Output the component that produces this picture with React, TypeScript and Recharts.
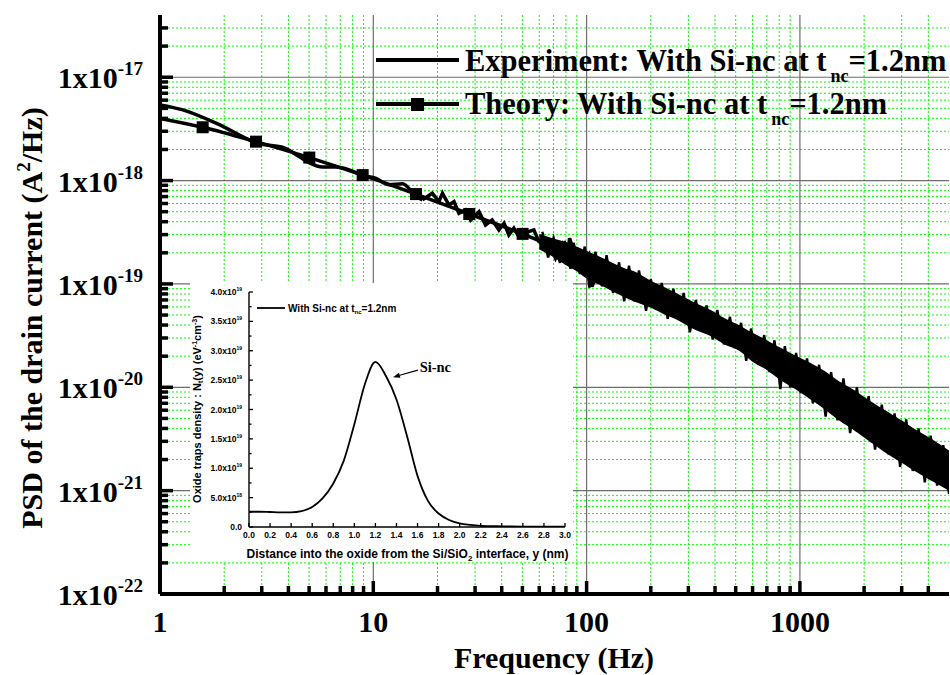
import React from 'react';
import {
  ComposedChart, LineChart, Line, Area, XAxis, YAxis, ReferenceLine, ReferenceDot, Legend, Label, CartesianGrid,
} from 'recharts';

// ---------------- main chart data ----------------
const xDecades = [1, 10, 100, 1000];
const yDecades = [1e-22, 1e-21, 1e-20, 1e-19, 1e-18, 1e-17];
const mantissas = [1, 2, 3, 4, 5, 6, 7, 8, 9];
const xDomain = [1, 5000];
const yDomain = [1e-22, 4e-17];

// experiment, low-frequency smooth part
const expSmoothF = [1, 1.28, 1.83, 2.62, 2.82, 3.75, 4.49, 5.0, 5.78, 6.67, 7.7, 8.9, 10.3, 11.85, 13.7, 15.8, 17.0];
const expSmoothV = [5.4e-18, 4.83e-18, 3.59e-18, 2.47e-18, 2.3e-18, 2.1e-18, 1.71e-18, 1.49e-18, 1.35e-18, 1.35e-18, 1.27e-18, 1.12e-18, 1.05e-18, 9.1e-19, 9.3e-19, 7.1e-19, 6.5e-19];

// experiment, noisy mid-frequency part
const expNoisyF = [17.0, 18.9, 20.3, 21.1, 22.6, 23.9, 25.2, 27.1, 28.6, 31.3, 33.6, 36.1, 38.8, 41.0, 43.2, 45.6, 48.2, 53.6, 56.6, 59.7, 64.2, 68.9, 71.5, 76.8, 81.0, 83.2, 88.8, 93.7, 102.4, 106.1, 114];
const expNoisyV = [6.5e-19, 7.55e-19, 6.25e-19, 7.55e-19, 5.81e-19, 6.25e-19, 4.83e-19, 5.2e-19, 4.16e-19, 5.0e-19, 3.72e-19, 4.16e-19, 3.33e-19, 3.87e-19, 2.98e-19, 3.46e-19, 2.87e-19, 3.21e-19, 3.33e-19, 2.57e-19, 2.38e-19, 2.13e-19, 1.77e-19, 2.38e-19, 1.59e-19, 2.77e-19, 1.84e-19, 1.47e-19, 1.91e-19, 9.4e-20, 1.47e-19];

// experiment, high-frequency noise band (lower / upper envelope)
const bandF = [60, 70, 80, 90, 100, 115, 130, 150, 170, 200, 230, 270, 320, 380, 450, 520, 600, 700, 800, 950, 1100, 1300, 1500, 1800, 2100, 2500, 3000, 3500, 4200, 5000];
const bandLow = [2.2e-19, 1.85e-19, 1.55e-19, 1.35e-19, 1.15e-19, 1.0e-19, 8.8e-20, 7.6e-20, 6.8e-20, 6.0e-20, 5.2e-20, 4.5e-20, 3.7e-20, 3.2e-20, 2.6e-20, 2.3e-20, 1.8e-20, 1.5e-20, 1.22e-20, 9.8e-21, 8.0e-21, 6.3e-21, 5.0e-21, 3.9e-21, 3.1e-21, 2.4e-21, 1.9e-21, 1.55e-21, 1.25e-21, 1.02e-21];
const bandHigh = [3.0e-19, 2.7e-19, 2.5e-19, 2.25e-19, 2.05e-19, 1.8e-19, 1.6e-19, 1.4e-19, 1.28e-19, 1.05e-19, 9.2e-20, 7.8e-20, 6.5e-20, 5.5e-20, 4.5e-20, 3.9e-20, 3.3e-20, 2.8e-20, 2.4e-20, 2.0e-20, 1.72e-20, 1.42e-20, 1.15e-20, 9.2e-21, 7.4e-21, 5.9e-21, 4.7e-21, 3.8e-21, 3.05e-21, 2.4e-21];

// experiment, spikes of the noisy trace sticking out of the band
const spikeF = [62, 66, 70, 75, 79, 84, 87, 93, 98, 103, 110, 118, 124, 133, 142, 150, 158, 167, 176, 190, 200, 212, 225, 240, 255, 272, 285, 305, 325, 345, 365, 390, 410, 440, 470, 495, 530, 560, 590, 640, 680, 720, 760, 810, 850, 900, 960, 1010, 1080, 1150, 1230, 1320, 1400, 1500, 1600, 1720, 1850, 1980, 2100, 2250, 2420, 2600, 2780, 2950, 3150, 3380, 3600, 3850, 4100, 4400, 4700, 5000];
const spikeV = [3.2e-19, 1.8e-19, 2.8e-19, 1.6e-19, 2.6e-19, 1.4e-19, 2.5e-19, 1.25e-19, 2.3e-19, 9.2e-20, 2.05e-19, 9.5e-20, 1.9e-19, 8.2e-20, 1.62e-19, 6.8e-20, 1.5e-19, 6.8e-20, 1.35e-19, 5.5e-20, 1.12e-19, 5.7e-20, 1.02e-19, 4.6e-20, 9.0e-20, 4.6e-20, 8.2e-20, 3.4e-20, 7.0e-20, 3.6e-20, 6.2e-20, 2.9e-20, 5.6e-20, 2.6e-20, 4.8e-20, 2.4e-20, 4.2e-20, 1.8e-20, 3.7e-20, 1.65e-20, 3.2e-20, 1.4e-20, 2.85e-20, 9.6e-21, 2.5e-20, 1.0e-20, 2.15e-20, 8.8e-21, 1.9e-20, 7.0e-21, 1.65e-20, 5.2e-21, 1.4e-20, 4.8e-21, 1.22e-20, 3.6e-21, 1.0e-20, 3.4e-21, 8.2e-21, 2.5e-21, 6.8e-21, 2.25e-21, 5.6e-21, 1.7e-21, 4.9e-21, 1.55e-21, 4.0e-21, 1.2e-21, 3.4e-21, 1.12e-21, 2.75e-21, 9.3e-22];

// theory
const theoryF = [1, 1.585, 2.818, 5.012, 8.913, 15.85, 28.18, 50.12, 89.13, 158.5, 281.8, 501.2, 891.3, 1585, 2818, 5000];
const theoryV = [4.0e-18, 3.28e-18, 2.38e-18, 1.67e-18, 1.13e-18, 7.4e-19, 4.75e-19, 3.05e-19, 1.85e-19, 1.0e-19, 5.2e-20, 2.95e-20, 1.55e-20, 7.6e-21, 3.1e-21, 1.55e-21];

// ---------------- inset data ----------------
const insetY = [0, 0.1, 0.2, 0.3, 0.4, 0.5, 0.6, 0.7, 0.8, 0.9, 1.0, 1.1, 1.2, 1.3, 1.4, 1.5, 1.6, 1.7, 1.8, 1.9, 2.0, 2.1, 2.2, 2.4, 2.6, 2.8, 3.0];
const insetNt = [2.6e18, 2.6e18, 2.55e18, 2.5e18, 2.5e18, 2.7e18, 3.4e18, 4.9e18, 7.4e18, 1.13e19, 1.75e19, 2.43e19, 2.81e19, 2.57e19, 2.17e19, 1.55e19, 8.7e18, 4.4e18, 2.3e18, 1.2e18, 6e17, 3.5e17, 2e17, 1.2e17, 8e16, 6e16, 5e16];
const insetXTicks = [0, 0.2, 0.4, 0.6, 0.8, 1.0, 1.2, 1.4, 1.6, 1.8, 2.0, 2.2, 2.4, 2.6, 2.8, 3.0];
const insetYTicks = [0, 2.5e18, 5e18, 7.5e18, 1e19, 1.25e19, 1.5e19, 1.75e19, 2e19, 2.25e19, 2.5e19, 2.75e19, 3e19, 3.25e19, 3.5e19, 3.75e19, 4e19];

// ---------------- derived ----------------
const expSmooth = expSmoothF.map((f, i) => ({ f, v: expSmoothV[i] }));
const expNoisy = expNoisyF.map((f, i) => ({ f, v: expNoisyV[i] }));
const band = bandF.map((f, i) => ({ f, r: [bandLow[i], bandHigh[i]] }));
const spikes = spikeF.map((f, i) => ({ f, v: spikeV[i] }));
const theory = theoryF.map((f, i) => ({ f, v: theoryV[i] }));
const inset = insetY.map((y, i) => ({ y, n: insetNt[i] }));

const xTicks = xDecades.flatMap((d) => mantissas.map((m) => m * d)).filter((v) => v < xDomain[1]);
const yTicks = yDecades.flatMap((d) => mantissas.map((m) => m * d)).filter((v) => v < yDomain[1] * 0.99);
const isMajor = (v: number) => Math.abs(Math.log10(v) - Math.round(Math.log10(v))) < 1e-6;
const xMinor = xTicks.filter((v) => !isMajor(v));
const xMajor = xTicks.filter((v) => isMajor(v) && v > xDomain[0]);
const yMinor = yTicks.filter((v) => !isMajor(v));
const yMajor = yTicks.filter((v) => isMajor(v) && v > yDomain[0] * 1.01);

const serif = '"Liberation Serif", "Times New Roman", serif';
const sans = '"Liberation Sans", Arial, sans-serif';
const GREEN = '#00ff00';

// ---------------- main ticks ----------------
function BottomTick(p: any) {
  const { x, y, payload } = p;
  const v = payload.value;
  const maj = isMajor(v);
  return (
    <g>
      <line x1={x} x2={x} y1={y} y2={y - (maj ? 13 : 8)} stroke="#000" strokeWidth={3.5} />
      {maj && (
        <text x={x} y={y + 38} textAnchor="middle" fontFamily={serif} fontWeight={700} fontSize={30} fill="#000">
          {String(Math.round(v))}
        </text>
      )}
    </g>
  );
}
function TopTick(p: any) {
  const { x, y, payload } = p;
  const maj = isMajor(payload.value);
  return <line x1={x} x2={x} y1={y} y2={y + (maj ? 13 : 8)} stroke="#000" strokeWidth={3.5} />;
}
function LeftTick(p: any) {
  const { x, y, payload } = p;
  const v = payload.value;
  const maj = isMajor(v);
  const e = Math.round(Math.log10(v));
  return (
    <g>
      <line x1={x} x2={x + (maj ? 13 : 8)} y1={y} y2={y} stroke="#000" strokeWidth={3.5} />
      {maj && (
        <text x={x - 17} y={y + 11} textAnchor="end" fontFamily={serif} fontWeight={700} fontSize={30} fill="#000">
          1x10<tspan dy={-13} fontSize={19}>{String(e)}</tspan>
        </text>
      )}
    </g>
  );
}
function RightTick(p: any) {
  const { x, y, payload } = p;
  const maj = isMajor(payload.value);
  return <line x1={x} x2={x - (maj ? 13 : 8)} y1={y} y2={y} stroke="#000" strokeWidth={3.5} />;
}

function SquareDot(p: any) {
  const { cx, cy, index } = p;
  if (index === 0 || cx == null) return <g key={`d${index}`} />;
  return <rect key={`d${index}`} x={cx - 6} y={cy - 6} width={12} height={12} fill="#000" />;
}

function MainLegend() {
  return (
    <div style={{ position: 'relative', width: 0, height: 0 }}>
      <svg width={950} height={130} style={{ position: 'absolute', left: 0, top: 0, overflow: 'visible' }}>
        <line x1={376} x2={459} y1={60} y2={60} stroke="#000" strokeWidth={4} />
        <text x={465} y={71} fontFamily={serif} fontWeight={700} fontSize={30.5} fill="#000">
          Experiment: With Si-nc at t<tspan dx={4} dy={11} fontSize={18}>nc</tspan>
          <tspan dy={-11}>=1.2nm</tspan>
        </text>
        <line x1={376} x2={459} y1={104} y2={104} stroke="#000" strokeWidth={4} />
        <rect x={411} y={98} width={13} height={13} fill="#000" />
        <text x={465} y={114} fontFamily={serif} fontWeight={700} fontSize={30.5} fill="#000">
          Theory: With Si-nc at t<tspan dx={4} dy={11} fontSize={18}>nc</tspan>
          <tspan dy={-11}>=1.2nm</tspan>
        </text>
      </svg>
    </div>
  );
}

// ---------------- inset ticks ----------------
function InsetBottomTick(p: any) {
  const { x, y, payload } = p;
  return (
    <g>
      <line x1={x} x2={x} y1={y} y2={y - 4} stroke="#000" strokeWidth={1.3} />
      <text x={x} y={y + 11} textAnchor="middle" fontFamily={sans} fontWeight={700} fontSize={8.5} fill="#000">
        {Number(payload.value).toFixed(1)}
      </text>
    </g>
  );
}
function InsetTopTick(p: any) {
  const { x, y } = p;
  return <line x1={x} x2={x} y1={y} y2={y + 4} stroke="#000" strokeWidth={1.3} />;
}
function fmtInsetY(v: number) {
  if (v === 0) return { m: '0.0', e: '' };
  const e = Math.floor(Math.log10(v) + 1e-9);
  return { m: (v / Math.pow(10, e)).toFixed(1) + 'x10', e: String(e) };
}
function InsetLeftTick(p: any) {
  const { x, y, payload } = p;
  const v = payload.value;
  const maj = Math.abs(v / 5e18 - Math.round(v / 5e18)) < 1e-6;
  const f = fmtInsetY(v);
  return (
    <g>
      <line x1={x} x2={x + (maj ? 4 : 2.5)} y1={y} y2={y} stroke="#000" strokeWidth={1.3} />
      {maj && (
        <text x={x - 7} y={y + 3} textAnchor="end" fontFamily={sans} fontWeight={700} fontSize={8.5} fill="#000">
          {f.m}
          {f.e && <tspan dy={-4} fontSize={5}>{f.e}</tspan>}
        </text>
      )}
    </g>
  );
}
function InsetRightTick(p: any) {
  const { x, y, payload } = p;
  const v = payload.value;
  const maj = Math.abs(v / 5e18 - Math.round(v / 5e18)) < 1e-6;
  return <line x1={x} x2={x - (maj ? 4 : 2.5)} y1={y} y2={y} stroke="#000" strokeWidth={1.3} />;
}
function ArrowShape(p: any) {
  const { x1, y1, x2, y2 } = p;
  if ([x1, y1, x2, y2].some((t) => t == null || isNaN(t))) return <g />;
  const ang = Math.atan2(y2 - y1, x2 - x1);
  const L = 7, W = 2.6;
  const bx = x2 - L * Math.cos(ang), by = y2 - L * Math.sin(ang);
  const px = -Math.sin(ang) * W, py = Math.cos(ang) * W;
  return (
    <g>
      <line x1={x1} y1={y1} x2={bx} y2={by} stroke="#000" strokeWidth={1.2} />
      <polygon points={`${x2},${y2} ${bx + px},${by + py} ${bx - px},${by - py}`} fill="#000" />
    </g>
  );
}

const logX = { type: 'number' as const, scale: 'log' as const, domain: xDomain, allowDataOverflow: true, interval: 0 as const };
const logY = { type: 'number' as const, scale: 'log' as const, domain: yDomain, allowDataOverflow: true, interval: 0 as const };

export default function App() {
  return (
    <div style={{ position: 'absolute', left: 0, top: 0, width: 950, height: 675, background: '#fff', overflow: 'hidden' }}>
      <ComposedChart width={950} height={675} margin={{ top: 15, right: 1, bottom: 0, left: 0 }}>
        <CartesianGrid verticalValues={xMinor} horizontalValues={yMinor} stroke={GREEN} strokeWidth={1} strokeDasharray="2 2" />
        <CartesianGrid verticalValues={xMajor} horizontalValues={yMajor} stroke="#6e6e6e" strokeWidth={1.2} />

        <XAxis
          dataKey="f" {...logX} ticks={xTicks}
          height={81} tickLine={false} tickSize={0} tickMargin={0} tick={(p: any) => <BottomTick {...p} />}
          axisLine={{ stroke: '#000', strokeWidth: 4 }}
          label={
            <Label
              content={() => (
                <text x={554} y={668} textAnchor="middle" fontFamily={serif} fontWeight={700} fontSize={30} fill="#000">
                  Frequency (Hz)
                </text>
              )}
            />
          }
        />
        <XAxis
          xAxisId="top" orientation="top" {...logX} ticks={xTicks}
          height={0} tickLine={false} tickSize={0} tickMargin={0} tick={(p: any) => <TopTick {...p} />}
          axisLine={{ stroke: '#000', strokeWidth: 4 }}
        />
        <YAxis
          {...logY} ticks={yTicks} width={160}
          tickLine={false} tickSize={0} tickMargin={0} tick={(p: any) => <LeftTick {...p} />}
          axisLine={{ stroke: '#000', strokeWidth: 4 }}
          label={
            <Label
              content={() => (
                <text x={42} y={318} transform="rotate(-90 42 318)" textAnchor="middle" fontFamily={serif} fontWeight={700} fontSize={30} fill="#000">
                  PSD of the drain current (A<tspan dy={-12} fontSize={19}>2</tspan>
                  <tspan dy={12}>/Hz)</tspan>
                </text>
              )}
            />
          }
        />
        <YAxis
          yAxisId="right" orientation="right" {...logY} ticks={yTicks}
          width={0} tickLine={false} tickSize={0} tickMargin={0} tick={(p: any) => <RightTick {...p} />}
          axisLine={{ stroke: '#000', strokeWidth: 4 }}
        />
        <Area data={band} dataKey="r" type="monotone" stroke="#000" strokeWidth={1.5} fill="#000" fillOpacity={1} isAnimationActive={false} />
        <Line data={spikes} dataKey="v" type="linear" stroke="#000" strokeWidth={2.4} dot={false} isAnimationActive={false} />
        <Line data={expNoisy} dataKey="v" type="linear" stroke="#000" strokeWidth={3.5} dot={false} isAnimationActive={false} />
        <Line data={expSmooth} dataKey="v" type="monotone" stroke="#000" strokeWidth={3.5} dot={false} isAnimationActive={false} />
        <Line data={theory} dataKey="v" type="monotone" stroke="#000" strokeWidth={3.5} dot={(p: any) => <SquareDot {...p} />} isAnimationActive={false} />
        <Legend verticalAlign="top" content={() => <MainLegend />} wrapperStyle={{ top: 0, left: 0, width: 0, height: 0 }} />
      </ComposedChart>

      <div style={{ position: 'absolute', left: 190, top: 283, width: 383, height: 279, background: '#fff' }}>
        <LineChart width={383} height={279} data={inset} margin={{ top: 9, right: 8, bottom: 0, left: 0 }}>
          <XAxis
            dataKey="y" type="number" domain={[0, 3]} ticks={insetXTicks} interval={0} allowDataOverflow height={35}
            tickLine={false} tickSize={0} tickMargin={0} tick={(p: any) => <InsetBottomTick {...p} />}
            axisLine={{ stroke: '#000', strokeWidth: 1.4 }}
            label={
              <Label
                content={() => (
                  <text x={217.5} y={275} textAnchor="middle" fontFamily={sans} fontWeight={700} fontSize={12} fill="#000">
                    Distance into the oxide from the Si/SiO<tspan dy={3} fontSize={8}>2</tspan>
                    <tspan dy={-3}> interface, y (nm)</tspan>
                  </text>
                )}
              />
            }
          />
          <XAxis
            xAxisId="top" orientation="top" type="number" domain={[0, 3]} ticks={insetXTicks} interval={0} allowDataOverflow
            height={0} tickLine={false} tickSize={0} tickMargin={0} tick={(p: any) => <InsetTopTick {...p} />}
            axisLine={{ stroke: '#000', strokeWidth: 1.4 }}
          />
          <YAxis
            type="number" domain={[0, 4e19]} ticks={insetYTicks} interval={0} allowDataOverflow width={59}
            tickLine={false} tickSize={0} tickMargin={0} tick={(p: any) => <InsetLeftTick {...p} />}
            axisLine={{ stroke: '#000', strokeWidth: 1.4 }}
            label={
              <Label
                content={() => (
                  <text x={11} y={126} transform="rotate(-90 11 126)" textAnchor="middle" fontFamily={sans} fontWeight={700} fontSize={11} fill="#000">
                    Oxide traps density : N<tspan dy={2} fontSize={7}>t</tspan>
                    <tspan dy={-2}>(y) (eV</tspan>
                    <tspan dy={-4} fontSize={7}>-1</tspan>
                    <tspan dy={4}>cm</tspan>
                    <tspan dy={-4} fontSize={7}>-3</tspan>
                    <tspan dy={4}>)</tspan>
                  </text>
                )}
              />
            }
          />
          <YAxis
            yAxisId="right" orientation="right" type="number" domain={[0, 4e19]} ticks={insetYTicks} interval={0}
            allowDataOverflow width={0} tickLine={false} tickSize={0} tickMargin={0} tick={(p: any) => <InsetRightTick {...p} />}
            axisLine={{ stroke: '#000', strokeWidth: 1.4 }}
          />
          <Line dataKey="n" type="monotone" stroke="#000" strokeWidth={1.8} dot={false} isAnimationActive={false} />
          <ReferenceLine
            segment={[{ x: 1.604, y: 2.67e19 }, { x: 1.367, y: 2.55e19 }]}
            stroke="#000"
            shape={(p: any) => <ArrowShape {...p} />}
          />
          <ReferenceDot
            x={1.62} y={2.72e19} r={0}
            shape={(p: any) => (
              <text x={p.cx} y={p.cy + 5} fontFamily={serif} fontWeight={700} fontSize={14.5} fill="#000">
                Si-nc
              </text>
            )}
          />
          <Legend
            verticalAlign="top"
            wrapperStyle={{ top: 0, left: 0, width: 0, height: 0 }}
            content={() => (
              <div style={{ position: 'relative', width: 0, height: 0 }}>
                <svg width={383} height={60} style={{ position: 'absolute', left: 0, top: 0, overflow: 'visible' }}>
                  <line x1={67} x2={95} y1={25} y2={25} stroke="#000" strokeWidth={1.8} />
                  <text x={98} y={28.7} fontFamily={sans} fontWeight={700} fontSize={10} fill="#000">
                    With Si-nc at t<tspan dy={2} fontSize={6}>nc</tspan>
                    <tspan dy={-2}>=1.2nm</tspan>
                  </text>
                </svg>
              </div>
            )}
          />
        </LineChart>
      </div>
    </div>
  );
}
